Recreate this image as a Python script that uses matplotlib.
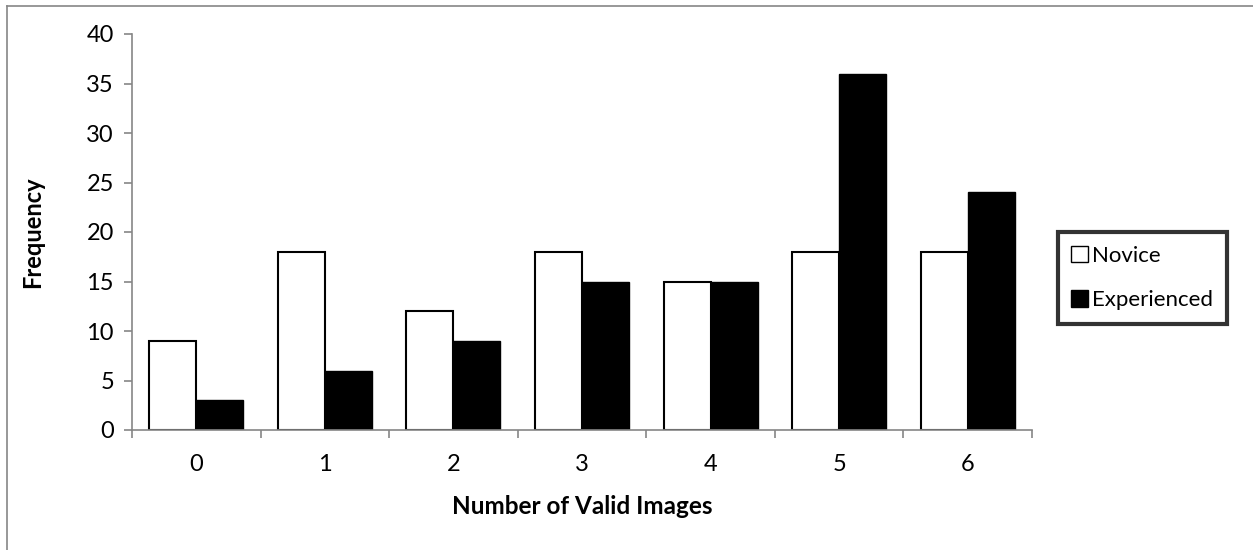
import numpy as np
import matplotlib
matplotlib.use('Agg')
import matplotlib.pyplot as plt
from matplotlib.lines import Line2D
from matplotlib.patches import Patch

categories = ['0', '1', '2', '3', '4', '5', '6']
novice = [9, 18, 12, 18, 15, 18, 18]
experienced = [3, 6, 9, 15, 15, 36, 24]
y_ticks = [0, 5, 10, 15, 20, 25, 30, 35, 40]

plt.rcParams['font.family'] = ['Lato', 'DejaVu Sans']
grey = '#868686'

fig = plt.figure(figsize=(12.53, 5.5), dpi=100)
ax = fig.add_axes([132/1253, 1-430/550, 900/1253, 396/550])

x = np.arange(len(categories))
w = 0.366
ax.bar(x - w/2, novice, w, color='white', edgecolor='black', linewidth=1.5, label='Novice')
ax.bar(x + w/2, experienced, w, color='black', edgecolor='black', linewidth=1.0, label='Experienced')

ax.set_xlim(-0.5, len(categories) - 0.5)
ax.set_ylim(0, 40)
ax.set_yticks(y_ticks)
ax.set_yticklabels([str(v) for v in y_ticks], fontsize=17)
ax.set_xticks(x)
ax.set_xticklabels(categories, fontsize=17)
ax.tick_params(axis='x', length=0, pad=17)
ax.set_xticks(np.arange(-0.5, len(categories)), minor=True)
ax.tick_params(axis='x', which='minor', length=6, color=grey, width=1.2)
ax.tick_params(axis='y', length=6, color=grey, width=1.2, pad=7)

for s in ['top', 'right']:
    ax.spines[s].set_visible(False)
for s in ['left', 'bottom']:
    ax.spines[s].set_color(grey)
    ax.spines[s].set_linewidth(1.2)

ax.set_ylabel('Frequency', fontsize=17, fontweight='bold')
ax.set_xlabel('Number of Valid Images', fontsize=17.5, fontweight='bold')
ax.yaxis.set_label_coords(-0.098, 0.5)
ax.xaxis.set_label_coords(0.5, -0.165)

handles = [Patch(facecolor='white', edgecolor='black', linewidth=1.0),
           Patch(facecolor='black', edgecolor='black', linewidth=1.0)]
leg = fig.legend(handles, ['Novice', 'Experienced'], loc='center left',
                 bbox_to_anchor=(1058/1253, 1-278/550), fontsize=16,
                 frameon=True, fancybox=False, handlelength=0.75, handleheight=0.75,
                 handletextpad=0.2, labelspacing=1.1, borderpad=0.6, borderaxespad=0)
leg.get_frame().set_edgecolor('black')
leg.get_frame().set_linewidth(3)

# outer chart border
fig.add_artist(Line2D([7/1253, 7/1253], [0, 1-6/550], color=grey, linewidth=1.2))
fig.add_artist(Line2D([7/1253, 1], [1-6/550, 1-6/550], color=grey, linewidth=1.2))

plt.savefig('out.png', dpi=100)
